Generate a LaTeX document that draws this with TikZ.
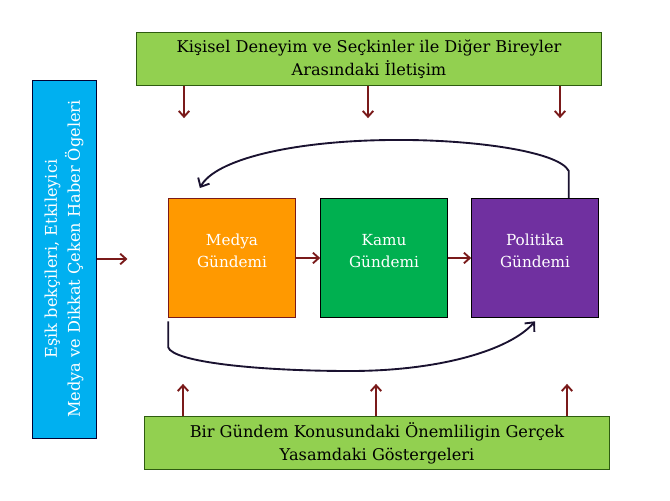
\documentclass[tikz,border=0pt]{standalone}
\usepackage{fontspec}
\setmainfont{DejaVu Serif}
\usepackage{tikz}
\usetikzlibrary{positioning,arrows.meta}

\definecolor{lightgrn}{HTML}{92D050}
\definecolor{darkgrn}{HTML}{2E5C10}
\definecolor{skyblue}{HTML}{00B0F0}
\definecolor{agorange}{HTML}{FF9900}
\definecolor{aggreen}{HTML}{00B050}
\definecolor{agpurple}{HTML}{7030A0}
\definecolor{arrowred}{HTML}{7A1A1A}
\definecolor{loopcol}{HTML}{1A1230}

\begin{document}
\begin{tikzpicture}[
    x=0.03cm, y=-0.03cm,
    every node/.style={align=center, inner sep=0pt},
    band/.style={draw=darkgrn, line width=0.8pt, fill=lightgrn, minimum width=13.95cm, minimum height=1.6cm, font=\fontsize{13.8}{19.5}\selectfont},
    agenda/.style={draw=black, line width=0.8pt, minimum width=3.8cm, minimum height=3.57cm, text=white, font=\fontsize{13}{19}\selectfont},
    push/.style={-{Straight Barb[length=5pt, width=9pt]}, draw=arrowred, line width=1.6pt},
    loop/.style={-{Straight Barb[length=6pt, width=11pt]}, draw=loopcol, line width=1.6pt}
]
\useasboundingbox (0,0) rectangle (670,500);

% outer factors
\node[band] (top) at (369,59) {Kişisel Deneyim ve Seçkinler ile Diğer Bireyler\\Arasındaki İletişim};
\node[band] (bottom) at (377,443) {Bir Gündem Konusundaki Önemliligin Gerçek\\Yasamdaki Göstergeleri};
\node[draw=black!80!blue, line width=0.8pt, fill=skyblue, minimum width=10.74cm, minimum height=1.92cm,
      rotate=90, text=white, font=\fontsize{13.8}{19.5}\selectfont] (gate) at (64,259)
      {Eşik bekçileri, Etkileyici\\Medya ve Dikkat Çeken Haber Ögeleri};

% agendas
\node[agenda, fill=agorange, draw=arrowred] (media) at (232,258) {Medya\\Gündemi\\[-7pt]};
\node[agenda, fill=aggreen] (public) at (384,258) {Kamu\\Gündemi\\[-7pt]};
\node[agenda, fill=agpurple] (policy) at (535,258) {Politika\\Gündemi\\[-7pt]};

\draw[push] (media) -- (public);
\draw[push] (public) -- (policy);
\draw[push] (gate.south) ++(1,0) -- ++(30,0);

% arrows from the bands
\foreach \x in {184,368,560}
    \draw[push] (\x,0 |- top.south) -- ++(0,32);
\foreach \x in {183,376,567}
    \draw[push] (\x,0 |- bottom.north) -- ++(0,-32);

% feedback loops
\draw[loop] ([xshift=-0.9cm]policy.north east) -- ++(0,-27)
    .. controls ++(-10,-20) and (470,139) .. (390,140)
    .. controls (290,141) and (215,160) .. ([xshift=0.95cm,yshift=0.3cm]media.north west);
\draw[loop] ([yshift=-0.1cm]media.south west) -- ++(0,26)
    .. controls ++(5,15) and (260,371) .. (350,371)
    .. controls (440,371) and (510,350) .. ([yshift=-0.1cm]policy.south);
\end{tikzpicture}
\end{document}
